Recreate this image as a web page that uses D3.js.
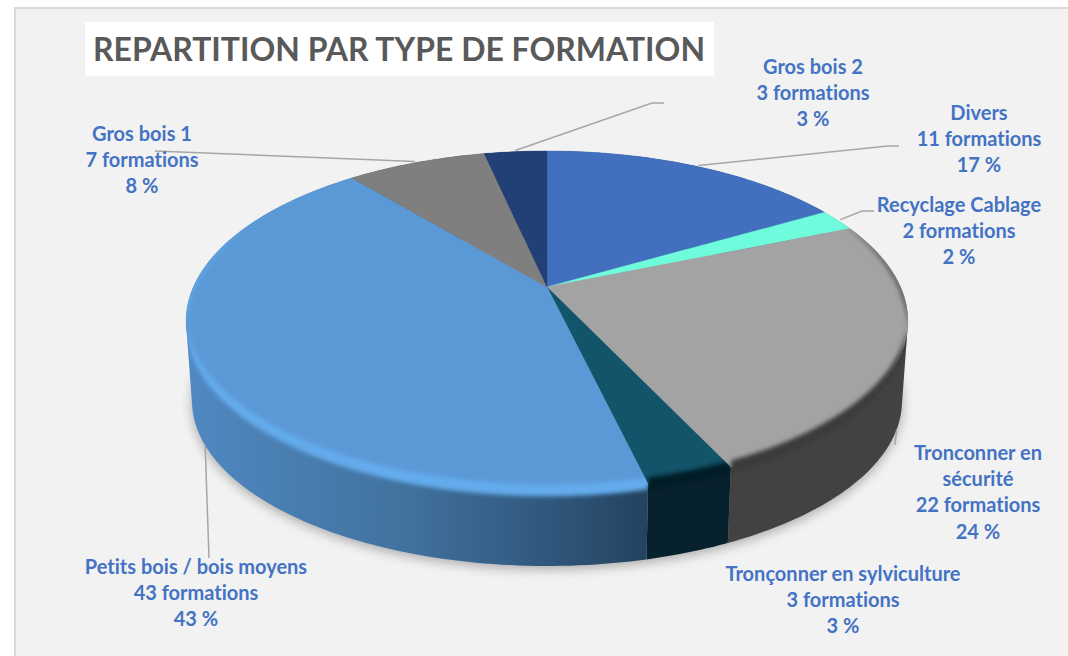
<!DOCTYPE html>
<html><head><meta charset="utf-8">
<script src="https://cdn.jsdelivr.net/npm/d3@7"></script>
<style>html,body{margin:0;padding:0;background:#fff}svg{display:block}text{font-variant-ligatures:none}</style>
</head><body><div id="chart"></div>
<script>
// ---- data ----
const title = "REPARTITION PAR TYPE DE FORMATION";
const categories = ["Divers","Recyclage Cablage","Tronconner en sécurité","Tronçonner en sylviculture","Petits bois / bois moyens","Gros bois 1","Gros bois 2"];
const formations = [11,2,22,3,43,7,3];
const percents   = [17,2,24,3,43,8,3];
// slice sizes as measured on the picture (they round to the printed percentages)
const shares     = [16.6,2.1,24.3,3.3,42.7,7.6,3.4];
// ---- styles ----
const faceColors = ["#4270bf","#6ffcdc","#a3a3a3","#125469","#5b99d6","#7f7f7f","#234076"];
const wallColors = ["#27436f","#3f9a85","#424242","#08222d","url(#blueWall)","#4b4b4b","#16284a"];
const rimColors  = ["#27436f","#3f9a85","#3a3a3a","#051c26","#63abec","#4b4b4b","#16284a"];
// label layout: wrapped lines, centre x, first line centre y, leader path
const labelLayout = [
 {lines:["Divers"], x:979, y:113, lead:[[888,146],[899,146]]},
 {lines:["Recyclage Cablage"], x:959, y:205, lead:[[862,211],[874,211]]},
 {lines:["Tronconner en","sécurité"], x:978, y:453, lead:[[895,445]], base:true},
 {lines:["Tronçonner en sylviculture"], x:843, y:574, lead:null},
 {lines:["Petits bois / bois moyens"], x:196, y:567, lead:[[209,558]], base:true},
 {lines:["Gros bois 1"], x:142, y:134, lead:[[155,151]]},
 {lines:["Gros bois 2"], x:813, y:67, lead:[[652,103],[664,103]]}
];
const W=1068,H=656;
const svg=d3.select("#chart").append("svg").attr("width",W).attr("height",H);
const defs=svg.append("defs");
const g1=defs.append("linearGradient").attr("id","blueWall").attr("gradientUnits","userSpaceOnUse")
  .attr("x1",190).attr("x2",650).attr("y1",0).attr("y2",0);
g1.append("stop").attr("offset",0).attr("stop-color","#5088c2");
g1.append("stop").attr("offset",.45).attr("stop-color","#42739f");
g1.append("stop").attr("offset",.75).attr("stop-color","#315a80");
g1.append("stop").attr("offset",1).attr("stop-color","#24425f");
defs.append("filter").attr("id","sh").attr("x","-10%").attr("y","-10%").attr("width","120%").attr("height","120%")
  .append("feGaussianBlur").attr("stdDeviation",6);
defs.append("filter").attr("id","rb").attr("filterUnits","userSpaceOnUse").attr("x",0).attr("y",0).attr("width",W).attr("height",H)
  .append("feGaussianBlur").attr("stdDeviation",2);

// panel
svg.append("rect").attr("x",15).attr("y",8).attr("width",W).attr("height",H)
  .attr("fill","#f2f2f2").attr("stroke","#d9d9d9").attr("stroke-width",2);
// title
svg.append("rect").attr("x",85).attr("y",22).attr("width",629).attr("height",54).attr("fill","#fff");
svg.append("text").attr("x",93).attr("y",61).attr("font-family","Lato, 'Open Sans', sans-serif")
  .attr("font-weight",700).attr("font-size",33).attr("fill","#595959")
  .attr("textLength",612).attr("lengthAdjust","spacingAndGlyphs").text(title);

// projection of the disc: perspective circle -> ellipse
const topDisc={cx:547,cy:287,b:163.2,c:353.6,p:.2};
const botDisc={cx:547,cy:368,b:158.4,c:347.8,p:.2};
function proj(d,a,r=1){const u=r*Math.sin(a),v=r*Math.cos(a),k=1+d.p*v;
  return [d.cx+d.c*u/k,d.cy-d.b*v/k];}
const lerp=(a,b,t)=>[a[0]+(b[0]-a[0])*t,a[1]+(b[1]-a[1])*t];
const pie=d3.pie().sort(null).value(d=>d)(shares);
const line=d3.line();
const angles=(s,e,st=0.01)=>{const n=Math.max(2,Math.ceil((e-s)/st));return d3.range(n+1).map(i=>s+(e-s)*i/n);};
// wall of one slice: quads swept between rims, all wound the same way, in one path
const wallPath=d=>d3.pairs(angles(d.startAngle,d.endAngle,0.02)).map(([a,b])=>{
  const q=[proj(topDisc,a),proj(topDisc,b),proj(botDisc,b),proj(botDisc,a)];
  if(d3.polygonArea(q)<0)q.reverse();
  return line(q)+"Z";}).join("");
const facePath=d=>line([[topDisc.cx,topDisc.cy]].concat(angles(d.startAngle,d.endAngle).map(a=>proj(topDisc,a))))+"Z";

// ground shadow
svg.append("path").attr("d",line(angles(0,2*Math.PI).map(a=>{const p=proj(botDisc,a);return [p[0],p[1]+3];}))+"Z")
  .attr("fill","#000").attr("opacity",.3).attr("filter","url(#sh)");

// walls
svg.append("g").selectAll("path").data(pie).join("path")
  .attr("d",wallPath).attr("fill",(d,i)=>wallColors[i]);

// top faces
svg.append("g").selectAll("path").data(pie).join("path")
  .attr("d",facePath)
  .attr("fill",(d,i)=>faceColors[i]).attr("stroke",(d,i)=>faceColors[i]).attr("stroke-width",.4);

// bevel rim, blurred and kept inside its own slice
const clamp=x=>Math.max(0,Math.min(1,x));
pie.forEach((d,i)=>{
  const A=angles(d.startAngle,d.endAngle).filter(a=>Math.cos(a)<0.45);
  if(A.length<2)return;
  const cp=defs.append("clipPath").attr("id","slice"+i);
  cp.append("path").attr("d",facePath(d));
  cp.append("path").attr("d",wallPath(d));
  const outer=A.map(a=>lerp(proj(topDisc,a),proj(botDisc,a),.07*clamp((.45-Math.cos(a))/.5)));
  const inner=A.map(a=>lerp(proj(topDisc,a),proj(botDisc,a),-.09*clamp(-Math.cos(a)*3)));
  svg.append("g").attr("clip-path","url(#slice"+i+")").append("path")
    .attr("d",line(outer.concat(inner.reverse()))+"Z")
    .attr("fill",rimColors[i]).attr("filter","url(#rb)");
});

// leaders
svg.append("g").selectAll("path").data(pie.filter((d,i)=>labelLayout[i].lead)).join("path")
  .attr("d",d=>{const m=(d.startAngle+d.endAngle)/2,L=labelLayout[d.index].lead;
    const s=labelLayout[d.index].base?proj(botDisc,m,1.0):proj(topDisc,m,1.01);
    return line([s].concat(L));})
  .attr("fill","none").attr("stroke","#a6a6a6").attr("stroke-width",1.5);

// labels
const lab=svg.append("g").attr("font-family","Lato, 'Open Sans', sans-serif").attr("font-weight",700)
  .attr("font-size",20).attr("fill","#4472c4").attr("text-anchor","middle");
labelLayout.forEach((l,i)=>{
  const rows=l.lines.concat([formations[i]+" formations",percents[i]+" %"]);
  rows.forEach((t,j)=>lab.append("text").attr("x",l.x).attr("y",l.y+j*26.2+7).text(t));
});
</script></body></html>
